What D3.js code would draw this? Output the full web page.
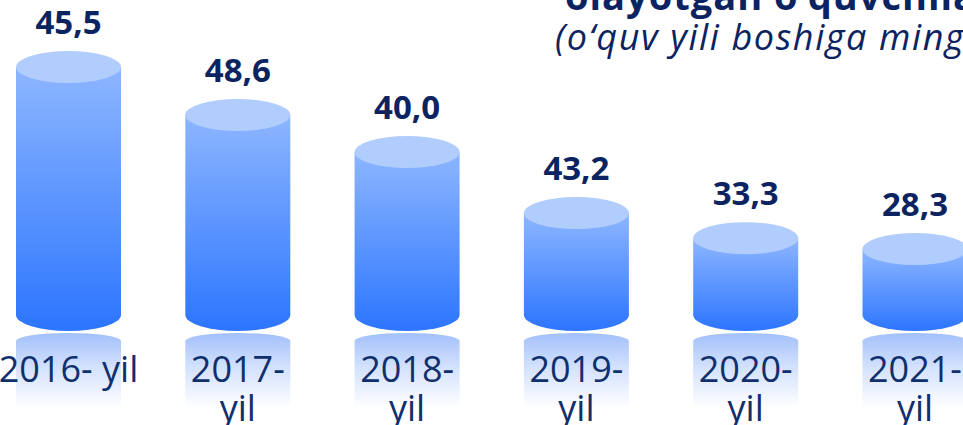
<!DOCTYPE html>
<html>
<head>
<meta charset="utf-8">
<script src="https://cdn.jsdelivr.net/npm/d3@7"></script>
<style>
  html, body { margin:0; padding:0; background:#fff; overflow:hidden; }
  svg { display:block; font-family:"Open Sans", "Noto Sans", sans-serif; }
</style>
</head>
<body>
<div id="chart"></div>
<script>
// categories (a space means the label stays on one line, otherwise it wraps after the hyphen)
var categories = ["2016- yil", "2017-yil", "2018-yil", "2019-yil", "2020-yil", "2021-yil"];
// value labels as printed on the slide
var valueLabels = [45.5, 48.6, 40.0, 43.2, 33.3, 28.3];
// cylinder heights as drawn (same units)
var barValues = [45.5, 36.7, 29.9, 18.7, 14.1, 12.1];
var titleLines = ["olayotgan o‘quvchilar soni", "(o‘quv yili boshiga ming nafar)"];

var W = 963, H = 425;
var baseY = 315, barW = 105, ry = 16;
var navy = "#0b2461";
var fmt = function(v){ return d3.format(".1f")(v).replace(".", ","); };

var svg = d3.select("#chart").append("svg")
    .attr("width", W)
    .attr("height", H);

var defs = svg.append("defs");

var body = defs.append("linearGradient").attr("id","bodyGrad")
    .attr("x1",0).attr("y1",0).attr("x2",0).attr("y2",1);
body.append("stop").attr("offset","0%").attr("stop-color","#8db6ff");
body.append("stop").attr("offset","100%").attr("stop-color","#2c75ff");

var refl = defs.append("linearGradient").attr("id","reflGrad")
    .attr("x1",0).attr("y1",0).attr("x2",0).attr("y2",1);
refl.append("stop").attr("offset","0%").attr("stop-color","#a3c0fb");
refl.append("stop").attr("offset","45%").attr("stop-color","#d2e1fd");
refl.append("stop").attr("offset","100%").attr("stop-color","#ffffff");

var x = d3.scalePoint()
    .domain(categories)
    .range([68.5, 915]);

var y = d3.scaleLinear()
    .domain([0, d3.max(barValues)])
    .range([baseY, 67]);

var rows = categories.map(function(c,i){
    return {name:c, value:barValues[i], label:valueLabels[i]};
});

// reflections first so bars sit on top
var reflTop = baseY + 18;
svg.append("g").selectAll("path.refl").data(rows).enter()
    .append("path")
    .attr("class","refl")
    .attr("d", function(d){
        var cx = x(d.name), x0 = cx - barW/2, x1 = cx + barW/2;
        return "M"+x0+","+(reflTop+8)+
            " A"+(barW/2)+","+8+" 0 0 1 "+x1+","+(reflTop+8)+
            " L"+x1+","+(reflTop+75)+" L"+x0+","+(reflTop+75)+" Z";
    })
    .style("fill","url(#reflGrad)");

var bars = svg.append("g").selectAll("g.cyl").data(rows).enter()
    .append("g").attr("class","cyl");

bars.append("path")
    .attr("d", function(d){
        var cx = x(d.name), x0 = cx - barW/2, x1 = cx + barW/2, top = y(d.value);
        return "M"+x0+","+top+" L"+x0+","+baseY+
            " A"+(barW/2)+","+ry+" 0 0 0 "+x1+","+baseY+
            " L"+x1+","+top+" Z";
    })
    .style("fill","url(#bodyGrad)");

bars.append("ellipse")
    .attr("cx", function(d){ return x(d.name); })
    .attr("cy", function(d){ return y(d.value); })
    .attr("rx", barW/2)
    .attr("ry", ry)
    .style("fill","#b1cdfd");

// value labels
bars.append("text")
    .attr("x", function(d){ return x(d.name); })
    .attr("y", function(d){ return y(d.value) - ry - 17; })
    .attr("text-anchor","middle")
    .style("font-size","33px")
    .style("font-weight","bold")
    .style("fill", navy)
    .text(function(d){ return fmt(d.label); });

// category labels
bars.append("text")
    .attr("text-anchor","middle")
    .style("font-size","36px")
    .style("fill","#10306d")
    .each(function(d){
        var t = d3.select(this), cx = x(d.name);
        var lines = d.name.indexOf(" ") >= 0 ? [d.name] : [d.name.split("-")[0]+"-", d.name.split("-")[1]];
        lines.forEach(function(l,i){
            t.append("tspan").attr("x",cx).attr("y",382 + i*39).text(l);
        });
    });

// title (cut off by the frame)
svg.append("text")
    .attr("x",565).attr("y",10)
    .style("font-size","38px").style("font-weight","bold")
    .style("letter-spacing","1px")
    .style("fill",navy)
    .text(titleLines[0]);
svg.append("text")
    .attr("x",555).attr("y",50)
    .style("font-size","36px").style("font-style","italic")
    .style("letter-spacing","1.6px")
    .style("fill",navy)
    .text(titleLines[1]);
</script>
</body>
</html>
